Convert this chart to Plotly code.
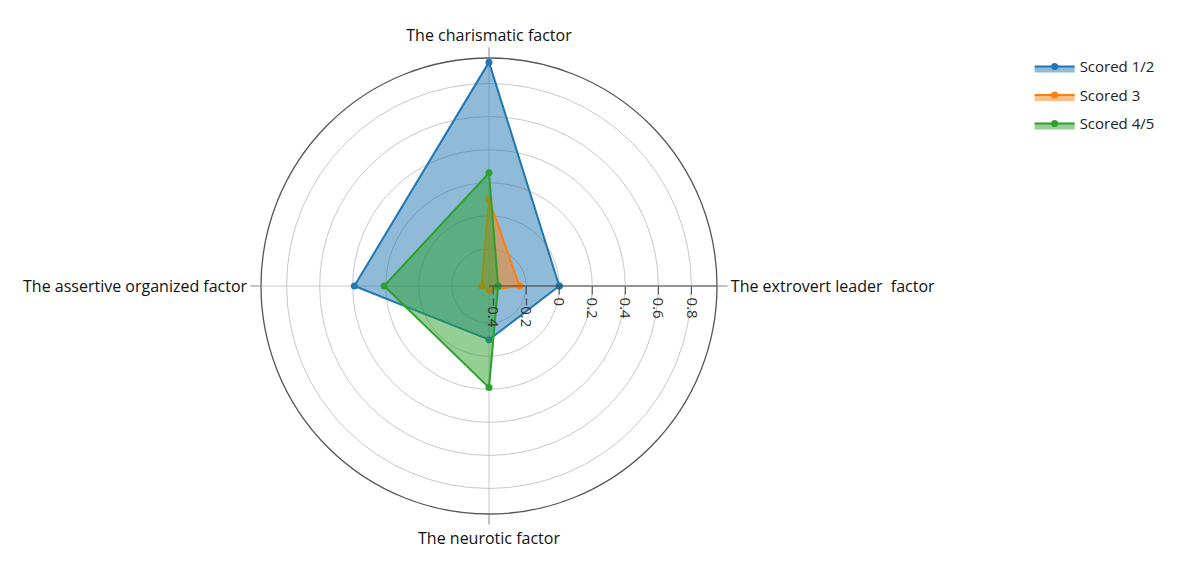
import plotly.graph_objects as go

categories = ["The extrovert leader  factor", "The charismatic factor",
              "The assertive organized factor", "The neurotic factor"]
series_names = ["Scored 1/2", "Scored 3", "Scored 4/5"]
scored_12 = [0.0, 0.93, 0.39, -0.10]
scored_3 = [-0.24, 0.10, -0.38, -0.40]
scored_45 = [-0.37, 0.26, 0.21, 0.19]
radial_ticks = [-0.4, -0.2, 0, 0.2, 0.4, 0.6, 0.8]
radial_tick_labels = ["\u22120.4", "\u22120.2", "0", "0.2", "0.4", "0.6", "0.8"]

colors = ["#1f77b4", "#ff7f0e", "#2ca02c"]
fills = ["rgba(31,119,180,0.5)", "rgba(255,127,14,0.5)", "rgba(44,160,44,0.5)"]

fig = go.Figure()
for name, vals, c, f in zip(series_names, [scored_12, scored_3, scored_45], colors, fills):
    fig.add_trace(go.Scatterpolar(
        r=vals + vals[:1], theta=categories + categories[:1],
        mode="lines+markers", name=name, legendgroup=name,
        line=dict(color=c, width=2), marker=dict(color=c, size=7),
        fill="toself", fillcolor=f,
    ))

W, H = 1177, 563
cx, cy, R = 481, 278, 228
fig.update_layout(
    width=W, height=H,
    margin=dict(l=0, r=0, t=0, b=0),
    paper_bgcolor="white", plot_bgcolor="white",
    font=dict(family="Open Sans, Liberation Sans, sans-serif", size=14, color="#222"),
    polar=dict(
        domain=dict(x=[(cx - R) / W, (cx + R) / W], y=[(H - cy - R) / H, (H - cy + R) / H]),
        bgcolor="white",
        radialaxis=dict(
            range=[-0.425, 0.955], tickvals=radial_ticks, ticktext=radial_tick_labels,
            angle=0, tickangle=90, side="clockwise",
            showline=True, linecolor="#444", linewidth=1.2,
            ticks="outside", ticklen=8, tickcolor="#444",
            gridcolor="#c8c8c8", gridwidth=1,
            tickfont=dict(size=15, color="#333"),
        ),
        angularaxis=dict(
            rotation=0, direction="counterclockwise",
            showline=True, linecolor="#555", linewidth=1.3,
            gridcolor="#c8c8c8", ticks="outside", ticklen=10, tickcolor="#888",
            tickfont=dict(size=16, color="#111"),
        ),
    ),
    legend=dict(x=0.868, y=0.925, xanchor="left", yanchor="top",
                font=dict(size=15, color="#222"), bgcolor="rgba(0,0,0,0)",
                itemwidth=40, tracegroupgap=6),
)
fig.write_html("out.html")
